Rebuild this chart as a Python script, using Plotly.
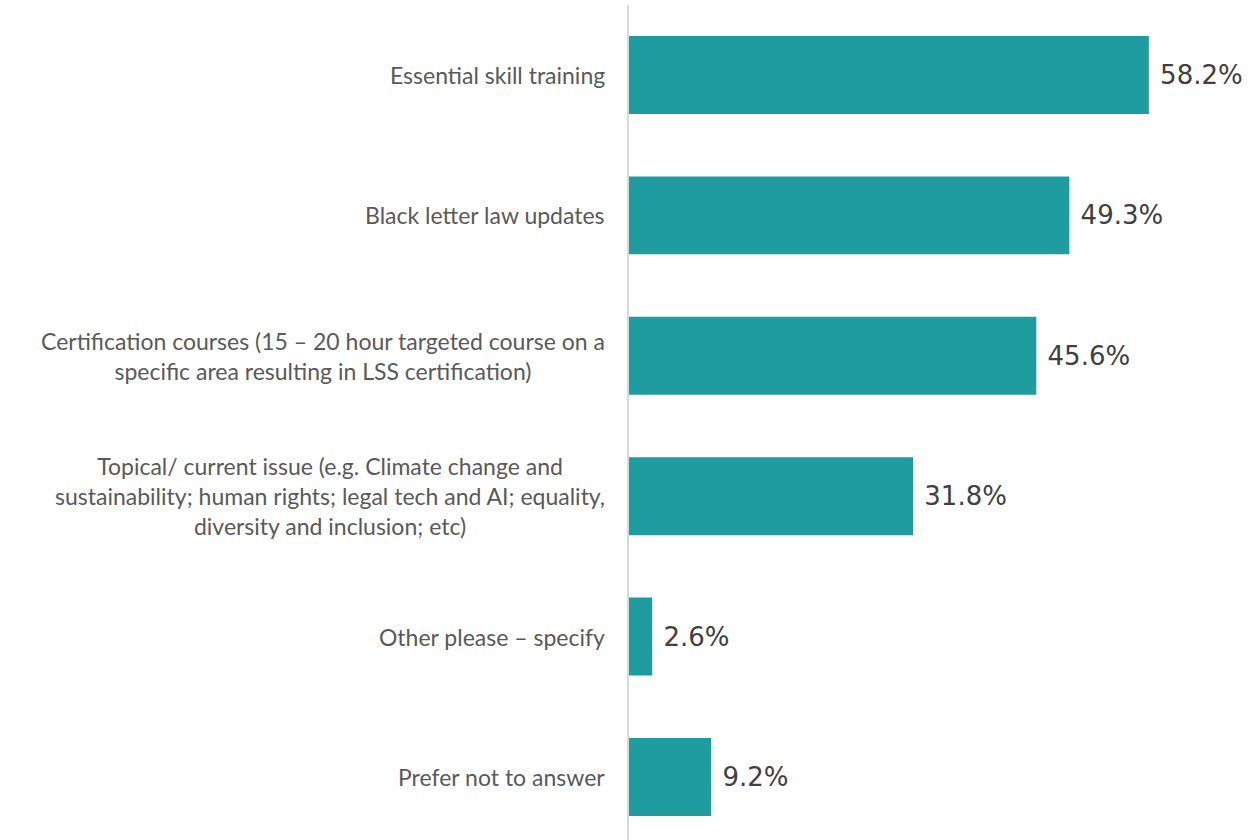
import plotly.graph_objects as go

categories = [
    "Essential skill training",
    "Black letter law updates",
    "Certification courses (15 – 20 hour targeted course on a<br>specific area resulting in LSS certification)",
    "Topical/ current issue (e.g. Climate change and<br>sustainability; human rights; legal tech and AI; equality,<br>diversity and inclusion; etc)",
    "Other please – specify",
    "Prefer not to answer",
]
values = [58.2, 49.3, 45.6, 31.8, 2.6, 9.2]

BAR = "#1F9CA0"
FONT = "Lato, 'Open Sans', sans-serif"
VFONT = "'DejaVu Sans', sans-serif"

fig = go.Figure()
fig.add_trace(go.Bar(
    x=values,
    y=categories,
    orientation="h",
    marker=dict(color=BAR, line=dict(width=0)),
    width=0.555,
    text=[f"{v:.1f}%" for v in values],
    texttemplate=" %{text}",
    textposition="outside",
    textfont=dict(size=26, color="#404040", family=VFONT),
    constraintext="none",
    cliponaxis=False,
    hoverinfo="skip",
))

for c in categories:
    fig.add_annotation(
        x=0, xref="paper", y=c, yref="y",
        text=c, showarrow=False, xanchor="right", yanchor="middle",
        align="center", xshift=-22,
        font=dict(size=23, color="#595959", family=FONT),
    )

fig.update_layout(
    width=1248, height=840,
    margin=dict(l=629, r=0, t=5, b=0),
    paper_bgcolor="white", plot_bgcolor="white",
    showlegend=False,
    font=dict(family=FONT),
    xaxis=dict(range=[0, 69.3], showgrid=False, zeroline=False, showticklabels=False, showline=False),
    yaxis=dict(range=[5.449, -0.4986], showgrid=False, zeroline=False, showticklabels=False,
               showline=True, linecolor="#D9D9D9", linewidth=2, layer="below traces"),
)

fig.write_html("out.html", config={"displayModeBar": False},
               post_script="document.body.style.margin='0';document.body.style.overflow='hidden';")
